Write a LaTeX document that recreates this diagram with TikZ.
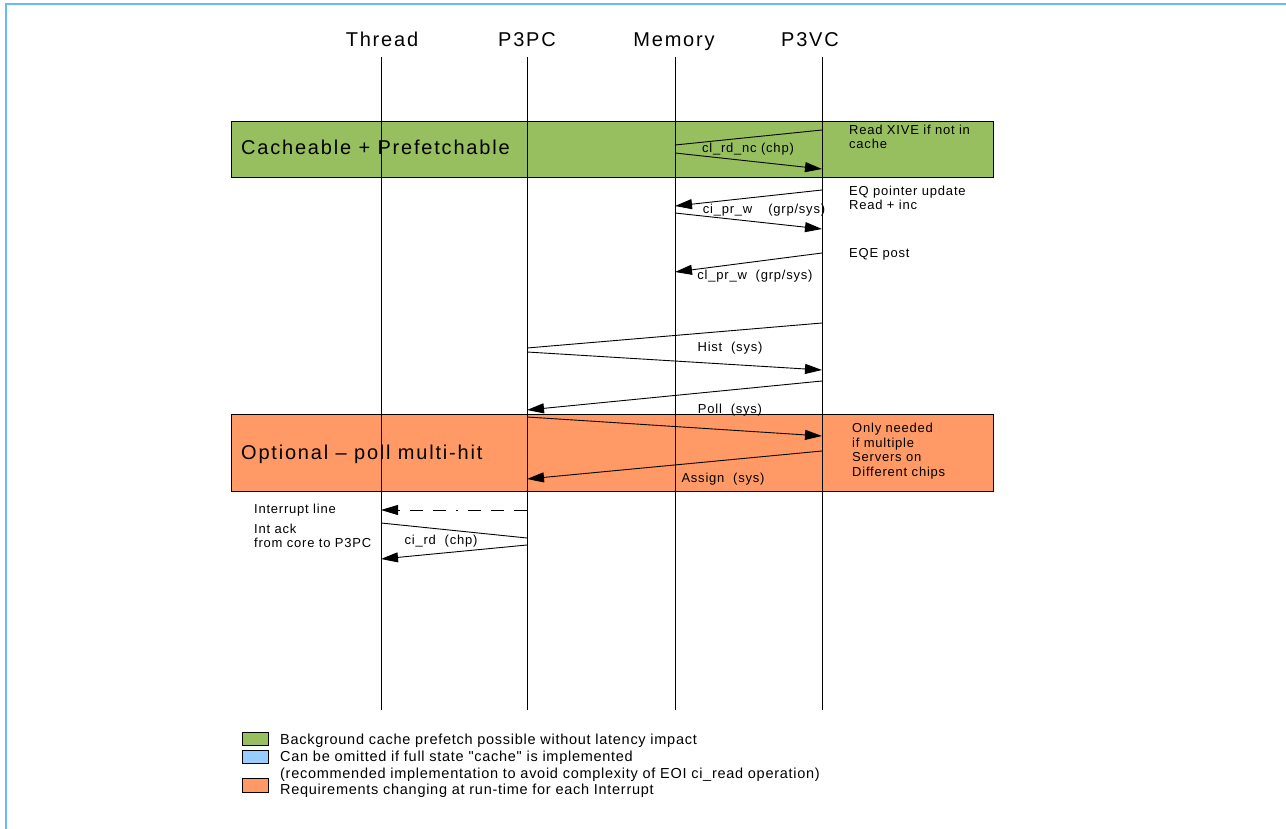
\documentclass[tikz,border=0pt]{standalone}
\usepackage{fontspec}
\setmainfont{Liberation Sans}[LetterSpace=6]
\newfontfamily\headfont{Liberation Sans}[LetterSpace=9]
\newfontfamily\legendfont{Liberation Sans}[LetterSpace=5]
\usetikzlibrary{arrows.meta}

\definecolor{bandgreen}{HTML}{97BF5F}
\definecolor{bandorange}{HTML}{FF9966}
\definecolor{legendblue}{HTML}{99CCFF}
\definecolor{frameblue}{HTML}{66BBFF}

\begin{document}
\begin{tikzpicture}[x=1pt, y=-1pt,
    % Stili comuni per linee di vita, messaggi ed etichette.
    lifeline/.style={draw, line width=0.9pt},
    msg/.style={draw, line width=0.9pt, -{Triangle[length=17pt, width=10pt]}},
    reply/.style={draw, line width=0.9pt},
    irq/.style={msg, dash pattern=on 13pt off 10pt on 13pt off 10pt on 13pt off 10pt on 2pt off 10pt},
    head/.style={font=\headfont\fontsize{20}{23}\selectfont, inner sep=0pt, anchor=base},
    band/.style={draw, line width=0.8pt},
    band title/.style={font=\headfont\fontsize{20}{23}\selectfont, inner sep=0pt, anchor=base west},
    msg label/.style={font=\fontsize{13}{14.5}\selectfont, inner sep=0pt},
    note/.style={font=\fontsize{13}{14.5}\selectfont, inner sep=0pt, anchor=west, align=left},
    legend box/.style={draw, line width=0.8pt},
    legend text/.style={font=\legendfont\fontsize{14.5}{16}\selectfont, inner sep=0pt, anchor=west}
]
\useasboundingbox (0,0) rectangle (1286,829);

% Cornice azzurra (solo lati superiore e sinistro).
\draw[frameblue, line width=2pt] (1286,4) -- (6,4) -- (6,829);

% Fasce colorate.
\path[band, fill=bandgreen]  (231,121) rectangle (993,177);
\path[band, fill=bandorange] (231,414) rectangle (993,491);
\node[band title] (cacheable) at (241,155) {Cacheable + Prefetchable};
\node[band title] (optional)  at (241,459) {Optional – poll multi-hit};

% Intestazioni e linee di vita.
\node[head] (thread) at (382,47) {Thread};
\node[head] (p3pc)   at (527,47) {P3PC};
\node[head] (memory) at (674,47) {Memory};
\node[head] (p3vc)   at (810,47) {P3VC};

\coordinate (thread top) at (381,57);  \coordinate (thread end) at (381,710);
\coordinate (p3pc top)   at (527,57);  \coordinate (p3pc end)   at (527,710);
\coordinate (memory top) at (675,57);  \coordinate (memory end) at (675,710);
\coordinate (p3vc top)   at (822,57);  \coordinate (p3vc end)   at (822,710);

\draw[lifeline] (thread top) -- (thread end);
\draw[lifeline] (p3pc top) -- (p3pc end);
\draw[lifeline] (memory top) -- (memory end);
\draw[lifeline] (p3vc top) -- (p3vc end);

% Estremi dei messaggi sulle linee di vita.
\coordinate (a1) at (822,130); \coordinate (a2) at (675,145);
\coordinate (a3) at (675,153); \coordinate (a4) at (822,169);
\coordinate (b1) at (822,190); \coordinate (b2) at (675,206);
\coordinate (b3) at (675,213); \coordinate (b4) at (822,229);
\coordinate (c1) at (822,253); \coordinate (c2) at (675,272);
\coordinate (d1) at (822,323); \coordinate (d2) at (527,348);
\coordinate (d3) at (527,352); \coordinate (d4) at (822,370);
\coordinate (e1) at (822,381); \coordinate (e2) at (527,410);
\coordinate (e3) at (527,417); \coordinate (e4) at (822,436);
\coordinate (f1) at (822,451); \coordinate (f2) at (527,479);
\coordinate (g1) at (527,510); \coordinate (g2) at (381,510);
\coordinate (h1) at (381,523); \coordinate (h2) at (527,538);
\coordinate (h3) at (527,545); \coordinate (h4) at (381,559);

% Messaggi.
\draw[reply] (a1) -- (a2);
\draw[msg]   (a3) -- (a4);
\draw[msg]   (b1) -- (b2);
\draw[msg]   (b3) -- (b4);
\draw[msg]   (c1) -- (c2);
\draw[reply] (d1) -- (d2);
\draw[msg]   (d3) -- (d4);
\draw[msg]   (e1) -- (e2);
\draw[msg]   (e3) -- (e4);
\draw[msg]   (f1) -- (f2);
\draw[irq]   (g1) -- (g2);
\draw[reply] (h1) -- (h2);
\draw[msg]   (h3) -- (h4);

% Etichette dei messaggi.
\node[msg label] (rdnc)   at (748,149) {cl\_rd\_nc (chp)};
\node[msg label] (prw)    at (764,210) {ci\_pr\_w\hspace{16pt}(grp/sys)};
\node[msg label] (clprw)  at (755,276) {cl\_pr\_w\ \ (grp/sys)};
\node[msg label] (hist)   at (730,348) {Hist\ \ (sys)};
\node[msg label] (poll)   at (730,410) {Poll\ \ (sys)};
\node[msg label] (assign) at (723,479) {Assign\ \ (sys)};
\node[msg label] (cird)   at (441,541) {ci\_rd\ \ (chp)};

% Note a lato.
\node[note] (xive)   at (849,137) {Read XIVE if not in\\cache};
\node[note] (eqptr)  at (849,198) {EQ pointer update\\Read + inc};
\node[note] (eqe)    at (849,254) {EQE post};
\node[note] (multi)  at (852,451) {Only needed\\if multiple\\Servers on\\Different chips};
\node[note] (intl)   at (254,510) {Interrupt line};
\node[note] (intack) at (254,536) {Int ack\\from core to P3PC};

% Legenda.
\path[legend box, fill=bandgreen]  (242,732) rectangle (268,745);
\path[legend box, fill=legendblue] (242,750) rectangle (268,763);
\path[legend box, fill=bandorange] (242,778) rectangle (268,792);
\node[legend text] (lg1) at (280,741) {Background cache prefetch possible without latency impact};
\node[legend text] (lg2) at (280,758) {Can be omitted if full state \symbol{34}cache\symbol{34} is implemented};
\node[legend text] (lg3) at (280,775) {(recommended implementation to avoid complexity of EOI ci\_read operation)};
\node[legend text] (lg4) at (280,791) {Requirements changing at run-time for each Interrupt};
\end{tikzpicture}
\end{document}
